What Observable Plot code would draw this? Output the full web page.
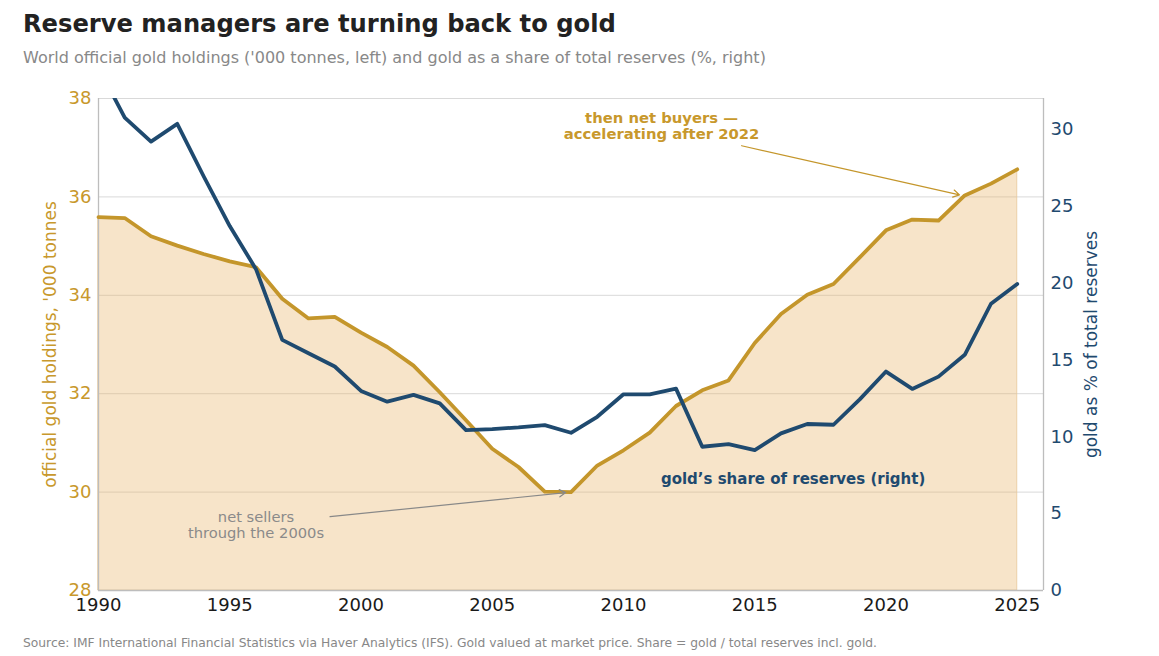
<!DOCTYPE html>
<html>
<head>
<meta charset="utf-8">
<script src="https://cdn.jsdelivr.net/npm/d3@7"></script>
<script src="https://cdn.jsdelivr.net/npm/@observablehq/plot@0.6"></script>
<style>
  html, body { margin: 0; padding: 0; background: #fff; }
  body { width: 1159px; height: 656px; position: relative; overflow: hidden; font-family: "DejaVu Sans", sans-serif; }
  #title { position: absolute; left: 23px; top: 12px; font-size: 24.2px; line-height: 24px; font-weight: bold; color: #222; white-space: nowrap; }
  #subtitle { position: absolute; left: 23px; top: 50px; font-size: 16px; line-height: 16px; color: #888; white-space: nowrap; }
  #chart { position: absolute; left: 0; top: 80px; }
  #caption { position: absolute; left: 23px; top: 637px; font-size: 12.3px; line-height: 12px; color: #888; white-space: nowrap; }
</style>
</head>
<body>
<div id="title">Reserve managers are turning back to gold</div>
<div id="subtitle">World official gold holdings ('000 tonnes, left) and gold as a share of total reserves (%, right)</div>
<div id="chart"></div>
<div id="caption">Source: IMF International Financial Statistics via Haver Analytics (IFS). Gold valued at market price. Share = gold / total reserves incl. gold.</div>
<script>
// ---- data ----
const years = [1990,1991,1992,1993,1994,1995,1996,1997,1998,1999,2000,2001,2002,2003,2004,2005,2006,2007,2008,2009,2010,2011,2012,2013,2014,2015,2016,2017,2018,2019,2020,2021,2022,2023,2024,2025];
// world official gold holdings, '000 tonnes
const goldHoldings = [35.59,35.57,35.20,35.01,34.84,34.69,34.57,33.93,33.53,33.56,33.24,32.95,32.57,32.03,31.46,30.88,30.51,30.01,30.00,30.54,30.85,31.21,31.75,32.07,32.27,33.03,33.62,34.01,34.23,34.77,35.32,35.54,35.52,36.03,36.27,36.56];
// gold as % of total reserves
const goldShare = [34.0,30.76,29.2,30.35,26.96,23.7,20.9,16.3,15.43,14.57,12.98,12.28,12.72,12.17,10.43,10.5,10.61,10.76,10.26,11.3,12.76,12.76,13.13,9.35,9.52,9.13,10.22,10.83,10.78,12.43,14.24,13.11,13.91,15.33,18.65,19.94];

const xTicks = [1990,1995,2000,2005,2010,2015,2020,2025];
const leftTicks = [28,30,32,34,36,38];
const rightTicks = [0,5,10,15,20,25,30];
const xDomain = [1990, 2026];
const leftDomain = [28, 38];
const rightDomain = [0, 32];

const annotations = [
  {text: "then net buyers —\naccelerating after 2022", x: 2011.45, y: 37.45, kind: "buyers"},
  {text: "net sellers\nthrough the 2000s", x: 1996.0, y: 29.33, kind: "sellers"},
  {text: "gold’s share of reserves (right)", x: 2016.46, y: 30.27, kind: "share"}
];
const arrows = [
  {x1: 2014.5, y1: 37.04, x2: 2022.8, y2: 36.04, kind: "buyers"},
  {x1: 1998.82, y1: 29.50, x2: 2007.8, y2: 29.99, kind: "sellers"}
];

const axisLeftLabel = "official gold holdings, '000 tonnes";
const axisRightLabel = "gold as % of total reserves";

// ---- styling ----
const GOLD = "#c4962b";
const GOLD_TEXT = "#c8982c";
const NAVY = "#1f4a6f";
const GRAY = "#8a8a8a";

// map share (%) onto left scale
const toLeft = s => leftDomain[0] + (s - rightDomain[0]) * (leftDomain[1] - leftDomain[0]) / (rightDomain[1] - rightDomain[0]);

const data = years.map((year, i) => ({year, gold: goldHoldings[i], share: goldShare[i], shareL: toLeft(goldShare[i])}));
const rightTickMap = new Map(rightTicks.map(t => [toLeft(t), t]));

const chart = Plot.plot({
  width: 1159,
  height: 545,
  marginLeft: 98,
  marginRight: 116,
  marginTop: 18,
  marginBottom: 35,
  style: {fontFamily: "DejaVu Sans", background: "transparent", overflow: "visible"},
  x: {domain: xDomain},
  y: {domain: leftDomain},
  marks: [
    Plot.gridY(leftTicks, {stroke: "#d9d9d9", strokeOpacity: 1, strokeWidth: 1}),
    Plot.areaY(data, {x: "year", y1: leftDomain[0], y2: "gold", fill: "#eab36a", fillOpacity: 0.36, stroke: "#e8c89a", strokeWidth: 0.8}),
    Plot.ruleX([xDomain[0], xDomain[1]], {stroke: "#bdbdbd", strokeWidth: 1.3}),
    Plot.ruleY([leftDomain[0]], {stroke: "#bdbdbd", strokeWidth: 1.3}),
    Plot.line(data, {x: "year", y: "gold", stroke: GOLD, strokeWidth: 3.8, strokeLinejoin: "round"}),
    Plot.line(data, {x: "year", y: "shareL", stroke: NAVY, strokeWidth: 3.8, strokeLinejoin: "round", clip: true}),
    Plot.axisY(leftTicks, {anchor: "left", tickSize: 0, tickPadding: 7, fontSize: 18, fill: GOLD_TEXT, label: null}),
    Plot.axisY(rightTicks.map(toLeft), {anchor: "right", tickSize: 0, tickPadding: 7, fontSize: 18, fill: NAVY, label: null, tickFormat: d => rightTickMap.get(d)}),
    Plot.axisX(xTicks, {anchor: "bottom", tickSize: 0, tickPadding: 8, fontSize: 18, fill: "#1a1a1a", label: null, tickFormat: d => String(d)}),
    Plot.text([axisLeftLabel], {frameAnchor: "left", dx: -48, rotate: -90, text: d => d, fontSize: 17, fill: GOLD_TEXT, textAnchor: "middle", lineAnchor: "middle"}),
    Plot.text([axisRightLabel], {frameAnchor: "right", dx: 48, rotate: -90, text: d => d, fontSize: 17, fill: NAVY, textAnchor: "middle", lineAnchor: "middle"}),
    Plot.arrow(arrows.filter(d => d.kind === "buyers"), {x1: "x1", y1: "y1", x2: "x2", y2: "y2", stroke: GOLD, strokeWidth: 1.2, headLength: 9, bend: 0}),
    Plot.arrow(arrows.filter(d => d.kind === "sellers"), {x1: "x1", y1: "y1", x2: "x2", y2: "y2", stroke: "#888", strokeWidth: 1.2, headLength: 9, bend: 0}),
    Plot.text(annotations.filter(d => d.kind === "buyers"), {x: "x", y: "y", text: "text", fontSize: 14.8, fontWeight: "bold", fill: GOLD_TEXT, textAnchor: "middle", lineAnchor: "middle", lineHeight: 1.1}),
    Plot.text(annotations.filter(d => d.kind === "sellers"), {x: "x", y: "y", text: "text", fontSize: 14.7, fill: GRAY, textAnchor: "middle", lineAnchor: "middle", lineHeight: 1.05}),
    Plot.text(annotations.filter(d => d.kind === "share"), {x: "x", y: "y", text: "text", fontSize: 15, fontWeight: "bold", fill: NAVY, textAnchor: "middle", lineAnchor: "middle"})
  ]
});
document.getElementById("chart").appendChild(chart);
</script>
</body>
</html>
